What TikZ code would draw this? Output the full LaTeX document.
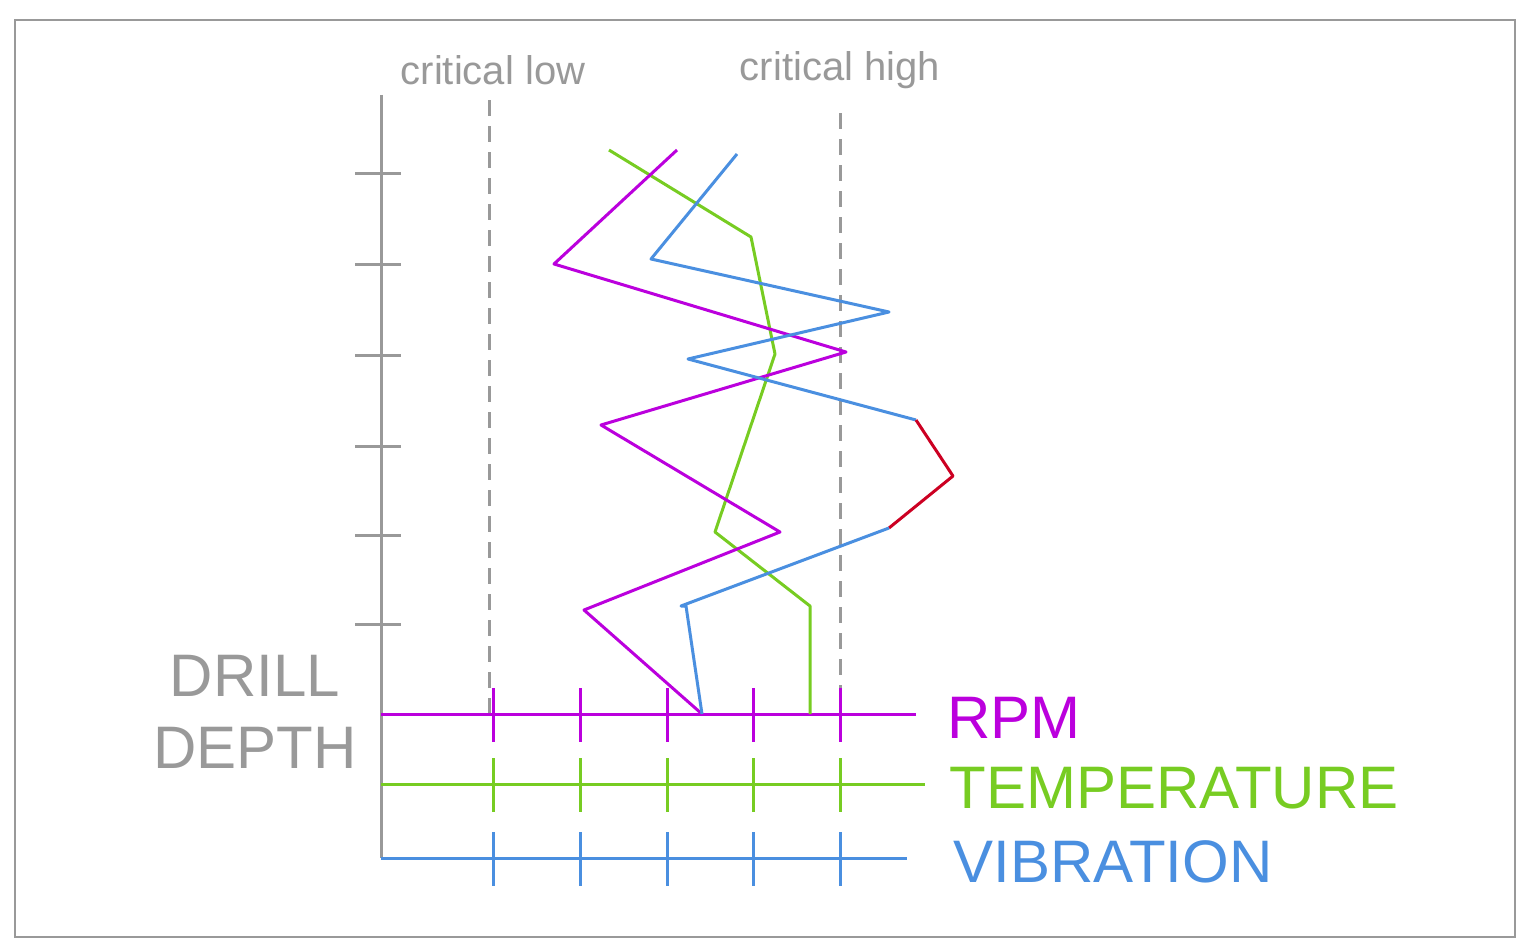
\documentclass[tikz,border=0pt]{standalone}
\usepackage{fontspec}
\setmainfont{Liberation Sans}
\begin{document}
\begin{tikzpicture}[x=1pt,y=-1pt,line width=3pt,
  gr/.style={draw=axgray},
  lbl/.style={inner sep=0pt,font=\fontsize{60}{64}\selectfont}]
\definecolor{axgray}{HTML}{999999}
\definecolor{rpm}{HTML}{BB00DD}
\definecolor{tmp}{HTML}{77CC22}
\definecolor{vib}{HTML}{4A8FE0}
\definecolor{crit}{HTML}{CC0022}
\useasboundingbox (0,0) rectangle (1532,950);
\draw[axgray,line width=2pt] (15,20) rectangle (1515,937);
% dashed critical lines
\draw[axgray,dashed,dash pattern=on 16pt off 10pt] (489,100) -- (489,714);
\draw[axgray,dashed,dash pattern=on 16pt off 10pt] (840,113) -- (840,714);
\node[text=axgray,inner sep=0pt,font=\fontsize{40}{44}\selectfont] (cl) at (493,70) {critical low};
\node[text=axgray,inner sep=0pt,font=\fontsize{40}{44}\selectfont] (ch) at (840,70) {critical high};
% vertical axis
\draw[axgray] (381,95) -- (381,858);
\foreach \y in {173,264,355,446,535,624} \draw[axgray] (355,\y) -- (401,\y);
% horizontal axes
\draw[rpm] (381,714) -- (916,714);
\draw[tmp] (381,784) -- (925,784);
\draw[vib] (381,858) -- (907,858);
\foreach \x in {493,580,667,753,840}{
  \draw[rpm] (\x,688) -- (\x,742);
  \draw[tmp] (\x,758) -- (\x,812);
  \draw[vib] (\x,832) -- (\x,886);
}
\node[lbl,text=axgray,align=center,font=\fontsize{60}{72}\selectfont] (dd) at (255,712) {DRILL\\DEPTH};
\node[lbl,text=rpm,anchor=west] (lr) at (946,718) {RPM};
\node[lbl,text=tmp,anchor=west] (lt) at (948,788) {TEMPERATURE};
\node[lbl,text=vib,anchor=west] (lv) at (952,862) {VIBRATION};
% data lines
\draw[tmp,line join=round] (609,150) -- (751,237) -- (775,354) -- (715,532) -- (810,606) -- (810,714);
\draw[rpm,line join=round] (677,150) -- (554,264) -- (846,352) -- (601,425) -- (780,532) -- (584,610) -- (702,714);
\draw[vib,line join=round] (737,154) -- (651,259) -- (889,312) -- (688,359) -- (916,420);
\draw[crit,line join=round] (916,420) -- (953,476) -- (889,528);
\draw[vib,line join=round] (889,528) -- (681,606) -- (686,606) -- (702,714);
\end{tikzpicture}
\end{document}
